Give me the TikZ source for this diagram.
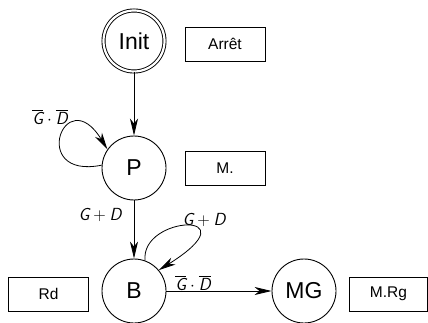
\documentclass[tikz,border=0pt]{standalone}
\usepackage{fontspec}
\setmainfont{Liberation Sans}
\usetikzlibrary{arrows.meta}
% sans oblique variable, plain and negated
\newcommand{\sv}[1]{\hbox{\sffamily\itshape #1}}
\newcommand{\nsv}[1]{\overline{\hbox{\sffamily\itshape #1}}}
\begin{document}
\begin{tikzpicture}[x=1pt,y=-1pt,
  state/.style={circle,draw,line width=0.9pt,minimum size=64pt,inner sep=0pt,
    font=\fontsize{23}{26}\selectfont},
  tag/.style={draw,line width=0.9pt,minimum width=80pt,minimum height=34pt,
    inner sep=0pt,font=\fontsize{15.5}{18}\selectfont},
  edge/.style={line width=0.8pt,-{Stealth[length=17pt,width=8pt,inset=5pt]}},
  cond/.style={inner sep=0pt,font=\fontsize{17.5}{20}\selectfont}]
\useasboundingbox[fill=white] (0,0) rectangle (428,323);

% states and their output boxes
\node[state,double,double distance=2.2pt,minimum size=61pt] (init) at (134,41) {Init};
\node[tag] (arret) at (225,44) {Arrêt};
\node[state] (p) at (134,168) {P};
\node[tag] (m) at (225,168.5) {M.};
\node[state] (b) at (134,291) {B};
\node[tag] (rd) at (48.5,294) {Rd};
\node[state] (mg) at (304,291) {MG};
\node[tag,minimum width=78pt] (mrg) at (388.5,294) {M.Rg};

% transitions
\draw[edge] (init) -- (p);
\draw[edge] (p) -- (b);
\draw[edge] (b) -- (mg);
\draw[edge] (p.175) .. controls (28,180) and (65,80) .. (p.145);
\draw[edge] (b.70) .. controls (140,215) and (255,210) .. (b.40);

% transition conditions
\node[cond] (cp) at (50,117) {$\nsv{G}\cdot\nsv{D}$};
\node[cond] (cpb) at (100,215) {$\sv{G}+\sv{D}$};
\node[cond] (cb) at (204,220) {$\sv{G}+\sv{D}$};
\node[cond] (cbm) at (193,283) {$\nsv{G}\cdot\nsv{D}$};
\end{tikzpicture}
\end{document}
